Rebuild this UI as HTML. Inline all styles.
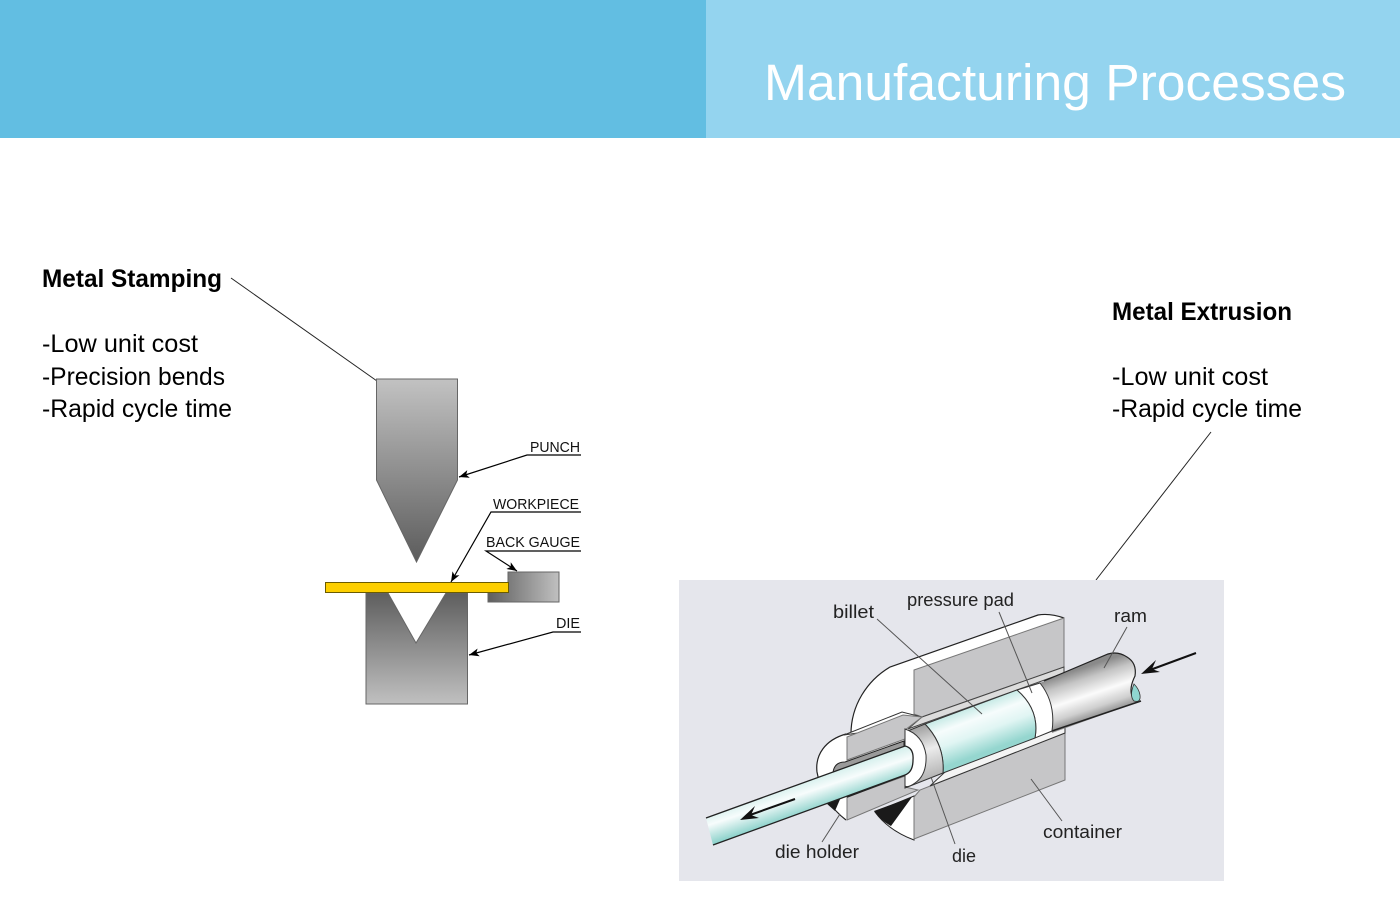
<!DOCTYPE html>
<html lang="en">
<head>
<meta charset="utf-8">
<title>Manufacturing Processes</title>
<style>
html,body{margin:0;padding:0;background:#fff;width:1400px;height:906px;overflow:hidden}
svg{display:block}
text{font-family:"Liberation Sans",sans-serif}
</style>
</head>
<body>
<svg xmlns="http://www.w3.org/2000/svg" width="1400" height="906" viewBox="0 0 1400 906">
<defs>
<linearGradient id="punch" x1="0" y1="379" x2="0" y2="562" gradientUnits="userSpaceOnUse"><stop offset="0" stop-color="#c2c2c2"/><stop offset="1" stop-color="#5c5c5c"/></linearGradient>
<linearGradient id="die" x1="0" y1="593" x2="0" y2="704" gradientUnits="userSpaceOnUse"><stop offset="0" stop-color="#5e5e5e"/><stop offset="1" stop-color="#c0c0c0"/></linearGradient>
<linearGradient id="gauge" x1="488" y1="0" x2="559" y2="0" gradientUnits="userSpaceOnUse"><stop offset="0" stop-color="#5e5e5e"/><stop offset="1" stop-color="#c0c0c0"/></linearGradient>
<linearGradient id="ram" x1="1082" y1="668" x2="1098" y2="716" gradientUnits="userSpaceOnUse"><stop offset="0" stop-color="#8a8a8a"/><stop offset=".22" stop-color="#c4c4c4"/><stop offset=".55" stop-color="#fbfbfb"/><stop offset=".82" stop-color="#cfcfcf"/><stop offset="1" stop-color="#939393"/></linearGradient>
<linearGradient id="billet" x1="968" y1="706" x2="985" y2="752" gradientUnits="userSpaceOnUse"><stop offset="0" stop-color="#bfe7e2"/><stop offset=".3" stop-color="#f6fcfc"/><stop offset=".6" stop-color="#e0f5f3"/><stop offset="1" stop-color="#95d6cf"/></linearGradient>
<linearGradient id="bar" x1="800" y1="782" x2="810" y2="812" gradientUnits="userSpaceOnUse"><stop offset="0" stop-color="#d5efec"/><stop offset=".38" stop-color="#f7fcfc"/><stop offset="1" stop-color="#8ad1ca"/></linearGradient>
<linearGradient id="dieG" x1="915" y1="727" x2="932" y2="780" gradientUnits="userSpaceOnUse"><stop offset="0" stop-color="#9e9e9e"/><stop offset=".45" stop-color="#ececec"/><stop offset="1" stop-color="#b0b0b0"/></linearGradient>
<marker id="ah" markerWidth="11" markerHeight="8" refX="10" refY="4" orient="auto" markerUnits="userSpaceOnUse"><path d="M0,0 L10,4 L0,8 L2.5,4 Z" fill="#000"/></marker>
</defs>

<!-- Header -->
<rect x="0" y="0" width="706" height="138" fill="#62bee2"/>
<rect x="706" y="0" width="694" height="138" fill="#94d4ef"/>
<text x="764" y="100" font-size="51" fill="#fff" textLength="582" lengthAdjust="spacingAndGlyphs">Manufacturing Processes</text>

<!-- Left text -->
<g font-size="25" fill="#000">
<text x="42" y="287" font-weight="bold" textLength="180" lengthAdjust="spacingAndGlyphs">Metal Stamping</text>
<text x="42" y="352" textLength="156" lengthAdjust="spacingAndGlyphs">-Low unit cost</text>
<text x="42" y="385" textLength="183" lengthAdjust="spacingAndGlyphs">-Precision bends</text>
<text x="42" y="417" textLength="190" lengthAdjust="spacingAndGlyphs">-Rapid cycle time</text>
<text x="1112" y="320" font-weight="bold" textLength="180" lengthAdjust="spacingAndGlyphs">Metal Extrusion</text>
<text x="1112" y="385" textLength="156" lengthAdjust="spacingAndGlyphs">-Low unit cost</text>
<text x="1112" y="417" textLength="190" lengthAdjust="spacingAndGlyphs">-Rapid cycle time</text>
</g>
<line x1="231" y1="278" x2="377" y2="381" stroke="#222" stroke-width="1"/>
<line x1="1211" y1="432" x2="1096" y2="580" stroke="#222" stroke-width="1"/>

<!-- Stamping diagram -->
<path d="M376.500,379 H457.500 V480 L416.500,562 L376.500,480 Z" fill="url(#punch)" stroke="#666" stroke-width="1"/>
<path d="M366,593 H388 L416,643 L446,593 H467.500 V704 H366 Z" fill="url(#die)" stroke="#666" stroke-width="1"/>
<path d="M508,572 H559 V602 H488 V592 H508 Z" fill="url(#gauge)" stroke="#666" stroke-width="1"/>
<rect x="325.500" y="582.500" width="183" height="10" fill="#fdcf00" stroke="#6b5b00" stroke-width="1"/>
<g fill="none" stroke="#000" stroke-width="1.200">
<path d="M581,455 H527 L459,477" marker-end="url(#ah)"/>
<path d="M581,512 H491 L451,582" marker-end="url(#ah)"/>
<path d="M581,551 H486 L517,571" marker-end="url(#ah)"/>
<path d="M581,632 H553 L469,655" marker-end="url(#ah)"/>
</g>
<g font-size="15" fill="#111">
<text x="530" y="452" textLength="50" lengthAdjust="spacingAndGlyphs">PUNCH</text>
<text x="493" y="509" textLength="86" lengthAdjust="spacingAndGlyphs">WORKPIECE</text>
<text x="486" y="547" textLength="94" lengthAdjust="spacingAndGlyphs">BACK GAUGE</text>
<text x="556" y="628" textLength="24" lengthAdjust="spacingAndGlyphs">DIE</text>
</g>

<!-- Extrusion diagram -->
<rect x="679" y="580" width="545" height="301" fill="#e5e6ec"/>

<!-- upper container -->
<path d="M851,737 C850,705 868,680 890,667 L1038,615 Q1050,613 1064,618 L1064,670 L916,730 Z" fill="#fff" stroke="none"/>
<path d="M851,737 C850,705 868,680 890,667 L1038,615 Q1050,613 1064,618" fill="none" stroke="#222" stroke-width="1.200"/>
<path d="M914,670 L1064,618 V667 L922,717 L914,714 Z" fill="#c6c6c8" stroke="#777" stroke-width="1"/>
<path d="M908,729 L1064,673 V667 L922,717 Z" fill="#dcdcdc" stroke="#444" stroke-width="1"/>

<!-- lower container -->
<path d="M875,812 Q888,830 914,840 V796 Z" fill="#fff" stroke="#222" stroke-width="1"/>
<path d="M874,811 L912,797 L891,826 Q880,820 874,811 Z" fill="#1a1a1a"/>
<path d="M914,797 L920,790 L1065,733 V780 L914,839 Z" fill="#c6c6c8" stroke="#777" stroke-width="1"/>
<path d="M930,786 L1065,733 V726 L945,772 Z" fill="#f4f4f4" stroke="#333" stroke-width="1"/>

<!-- die holder white face -->
<path d="M846,734 C825,740 815,755 817,772 C820,790 830,808 846,820 L905,796 V730 Z" fill="#fff"/>
<path d="M846,734 C825,740 815,755 817,772 C820,790 830,808 846,820" fill="none" stroke="#222" stroke-width="1.200"/>
<path d="M844,735 L902,712 L922,717 L905,726 Z" fill="#fff" stroke="#333" stroke-width="1"/>
<path d="M847,737 L903,715 L922,717 L905,730 V739 L847,760 Z" fill="#c6c6c8" stroke="#777" stroke-width="1"/>
<path d="M833,773 Q834,762 845,762 L904,741 V747 L840,770 Z" fill="#9a9a9a" stroke="#222" stroke-width="1"/>
<!-- black wedge left -->
<path d="M826,803 L841,797 L835,811 Z" fill="#1a1a1a"/>
<path d="M847,797 L905,776 V787 L918,790 L847,820 Z" fill="#c6c6c8" stroke="#777" stroke-width="1"/>
<path d="M847,797 L905,775" stroke="#222" stroke-width="1.500" fill="none"/>

<!-- ram -->
<path d="M1040,683 L1108,654 Q1118,651 1127,657 Q1137,663 1135,676 Q1131,685 1131,693 Q1133,699 1141,701 L1052,733 Z" fill="url(#ram)"/>
<path d="M1044,681 L1108,654 Q1118,651 1127,657 Q1137,663 1135,676 Q1129,688 1132,696" fill="none" stroke="#222" stroke-width="1.200"/>
<path d="M1052,731 L1141,701" stroke="#222" stroke-width="1.500" fill="none"/>
<path d="M1134,684 Q1129,696 1134,701 Q1141,703 1140,695 Q1139,689 1134,684 Z" fill="#8fd6d0" stroke="#333" stroke-width=".8"/>

<!-- pressure pad -->
<path d="M1017,690 L1040,683 Q1056,703 1052,731 L1035,738 Q1040,710 1017,690 Z" fill="#fff" stroke="#333" stroke-width="1"/>

<!-- billet -->
<path d="M925,724 L1017,690 Q1040,710 1035,738 L943,773 Q945,745 925,724 Z" fill="url(#billet)" stroke="#333" stroke-width="1"/>

<!-- die -->
<path d="M905,732 L925,724 Q945,745 943,773 L905,788 Z" fill="url(#dieG)" stroke="#333" stroke-width="1"/>
<path d="M905,729 Q923,735 926,755 Q927,775 915,783 Q908,788 905,786 V775 L905,746 Z" fill="#fff" stroke="#333" stroke-width="1"/>

<!-- bar -->
<path d="M706,818 L905,746 Q914,748 913,760 Q913,772 905,775 L713,845 Z" fill="url(#bar)"/>
<path d="M706,818 L905,746 Q914,748 913,760 Q913,772 905,775 L713,845" fill="none" stroke="#222" stroke-width="1.300"/>

<!-- flow arrows -->
<line x1="1196" y1="653" x2="1150" y2="670" stroke="#111" stroke-width="2"/>
<path d="M1141,674 L1156,660 L1152,669 L1160,672 Z" fill="#111"/>
<line x1="795" y1="799" x2="750" y2="815" stroke="#111" stroke-width="2"/>
<path d="M740,820 L755,806 L751,815 L759,818 Z" fill="#111"/>

<!-- leaders -->
<g stroke="#555" stroke-width="1" fill="none">
<line x1="877" y1="619" x2="982" y2="714"/>
<line x1="999" y1="612" x2="1032" y2="693"/>
<line x1="1127" y1="627" x2="1104" y2="668"/>
<line x1="1031" y1="779" x2="1062" y2="821"/>
<line x1="931" y1="777" x2="955" y2="844"/>
<line x1="840" y1="814" x2="822" y2="842"/>
</g>

<!-- labels -->
<g font-size="18" fill="#222">
<text x="833" y="618" textLength="41" lengthAdjust="spacingAndGlyphs">billet</text>
<text x="907" y="606" textLength="107" lengthAdjust="spacingAndGlyphs">pressure pad</text>
<text x="1114" y="622" textLength="33" lengthAdjust="spacingAndGlyphs">ram</text>
<text x="1043" y="838" textLength="79" lengthAdjust="spacingAndGlyphs">container</text>
<text x="775" y="858" textLength="84" lengthAdjust="spacingAndGlyphs">die holder</text>
<text x="952" y="862" textLength="24" lengthAdjust="spacingAndGlyphs">die</text>
</g>
</svg>
</body>
</html>
